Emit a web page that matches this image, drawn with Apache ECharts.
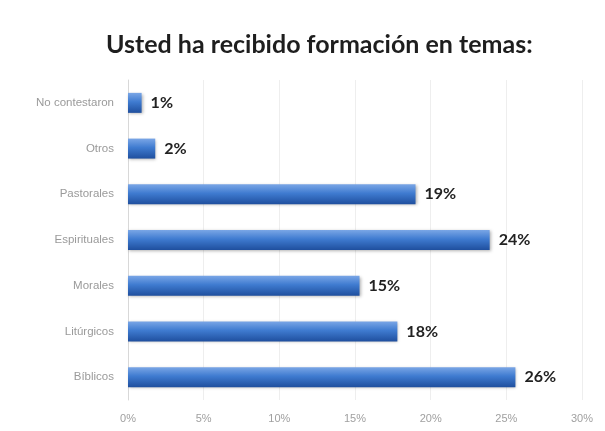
<!DOCTYPE html>
<html><head><meta charset="utf-8">
<script src="https://cdn.jsdelivr.net/npm/echarts@6/dist/echarts.min.js"></script>
<style>html,body{margin:0;padding:0;background:#fff}#c{width:605px;height:431px}</style>
</head><body><div id="c"></div>
<script>
const categories = ['Bíblicos','Litúrgicos','Morales','Espirituales','Pastorales','Otros','No contestaron'];
const values = [25.6, 17.8, 15.3, 23.9, 19.0, 1.8, 0.9];
const xTicks = [0, 5, 10, 15, 20, 25, 30];
const chart = echarts.init(document.getElementById('c'));
chart.setOption({
  backgroundColor: '#fff',
  title: {text: 'Usted ha recibido formación en temas:', left: 101, top: 27,
    textStyle: {fontFamily: 'Lato', fontWeight: 'bold', fontSize: 25, color: '#1e1e1e'}},
  grid: {left: 128, right: 23, top: 80, bottom: 31, containLabel: false},
  xAxis: {type: 'value', min: xTicks[0], max: xTicks[xTicks.length-1], interval: 5,
    axisLabel: {formatter: v => v + '%', color: '#a0a0a0', fontSize: 11, fontFamily: 'Liberation Sans', margin: 13},
    axisLine: {show: false}, axisTick: {show: false},
    splitLine: {lineStyle: {color: '#eeeeee'}}},
  yAxis: {type: 'category', data: categories,
    axisLabel: {color: '#9a9a9a', fontSize: 11.5, fontFamily: 'Liberation Sans', margin: 14},
    axisLine: {lineStyle: {color: '#d8d8d8'}}, axisTick: {show: false}},
  series: [{type: 'bar', data: values, barWidth: 20,
    itemStyle: {color: new echarts.graphic.LinearGradient(0,0,0,1,[
      {offset:0,color:'#7aa6e6'},{offset:0.45,color:'#3f7bd0'},{offset:1,color:'#1f4f9e'}]),
      shadowColor: 'rgba(0,0,0,0.3)', shadowBlur: 3, shadowOffsetX: 1, shadowOffsetY: 1},
    label: {show: true, position: 'right', distance: 9, formatter: p => Math.round(p.value) + '%',
      color: '#222', fontWeight: 'bold', fontSize: 16, fontFamily: 'Lato'}}]
});
</script></body></html>
